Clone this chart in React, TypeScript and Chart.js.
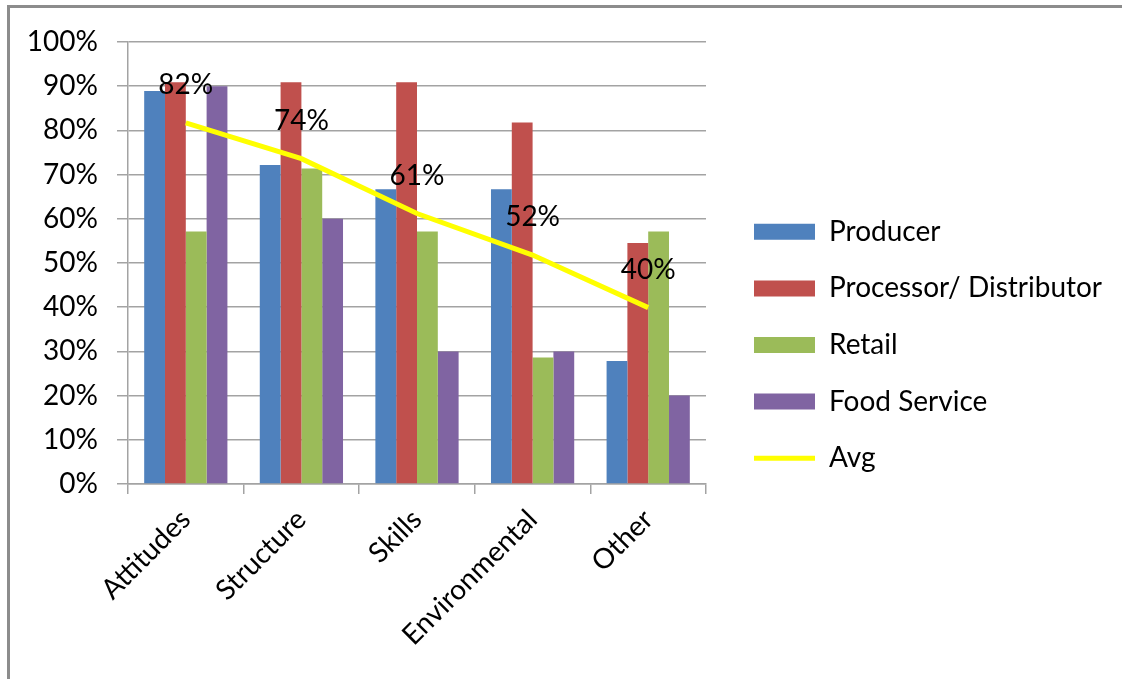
import React, { useEffect, useRef } from 'react';
import { Chart, registerables } from 'chart.js';

Chart.register(...registerables);

const categories = ['Attitudes', 'Structure', 'Skills', 'Environmental', 'Other'];
const producer = [88.9, 72.2, 66.7, 66.7, 27.8];
const processor = [90.9, 90.9, 90.9, 81.8, 54.5];
const retail = [57.1, 71.4, 57.1, 28.6, 57.1];
const foodService = [90, 60, 30, 30, 20];
const avg = [81.7, 73.6, 61.2, 51.8, 39.9];
const avgLabels = ['82%', '74%', '61%', '52%', '40%'];

const seriesNames = ['Producer', 'Processor/ Distributor', 'Retail', 'Food Service', 'Avg'];
const colors = ['#4F81BD', '#C0504D', '#9BBB59', '#8064A2', '#FFFF00'];

const FONT = 'Lato';
const FS = 28;
const GRID = '#a3a3a3';

const avgLabelPlugin = {
  id: 'avgLabelPlugin',
  afterDatasetsDraw(chart: any) {
    const idx = chart.data.datasets.findIndex((d: any) => d.type === 'line');
    if (idx < 0) return;
    const meta = chart.getDatasetMeta(idx);
    const ctx = chart.ctx;
    ctx.save();
    ctx.font = `${FS}px ${FONT}`;
    ctx.fillStyle = '#000';
    ctx.textAlign = 'center';
    ctx.textBaseline = 'middle';
    meta.data.forEach((pt: any, i: number) => {
      ctx.fillText(avgLabels[i], pt.x, pt.y - 38);
    });
    ctx.restore();
  },
};

export default function App() {
  const ref = useRef<HTMLCanvasElement | null>(null);

  useEffect(() => {
    if (!ref.current) return;
    const barSets = [producer, processor, retail, foodService].map((data, i) => ({
      type: 'bar' as const,
      label: seriesNames[i],
      data,
      backgroundColor: colors[i],
      borderWidth: 0,
      barPercentage: 1,
      categoryPercentage: 0.72,
      order: 1,
    }));
    const chart = new Chart(ref.current, {
      type: 'bar',
      data: {
        labels: categories,
        datasets: [
          ...barSets,
          {
            type: 'line' as const,
            label: seriesNames[4],
            data: avg,
            borderColor: colors[4],
            backgroundColor: colors[4],
            borderWidth: 5,
            pointRadius: 0,
            tension: 0,
            fill: false,
            order: -1,
          } as any,
        ],
      },
      options: {
        responsive: false,
        maintainAspectRatio: false,
        animation: false,
        layout: { padding: { top: 42, left: 0, right: 11.6, bottom: 31 } },
        plugins: {
          tooltip: { enabled: false },
          legend: {
            position: 'right',
            align: 'center',
            maxWidth: 385,
            labels: {
              font: { family: FONT, size: FS },
              color: '#000',
              usePointStyle: true,
              pointStyleWidth: 61,
              boxHeight: 16,
              padding: 28.6,
              sort: (a: any, b: any) => a.datasetIndex - b.datasetIndex,
              generateLabels: (ch: any) => {
                const items = (Chart.defaults.plugins.legend.labels as any).generateLabels(ch);
                return items.map((it: any) => {
                  const ds = ch.data.datasets[it.datasetIndex];
                  if (ds.type === 'line') {
                    return { ...it, pointStyle: 'line', strokeStyle: colors[4], fillStyle: colors[4], lineWidth: 5 };
                  }
                  return { ...it, pointStyle: 'rect', lineWidth: 0, fillStyle: ds.backgroundColor, strokeStyle: ds.backgroundColor };
                });
              },
            },
          },
        },
        scales: {
          x: {
            grid: {
              display: true,
              drawOnChartArea: false,
              drawTicks: true,
              tickLength: 10,
              color: GRID,
              lineWidth: 1.5,
              offset: true,
            },
            border: { display: true, color: GRID, width: 1.5 },
            ticks: {
              font: { family: FONT, size: FS },
              color: '#000',
              maxRotation: 45,
              minRotation: 45,
              padding: 9,
              autoSkip: false,
            },
            afterFit: (s: any) => {
              s.height = 164;
            },
          },
          y: {
            min: 0,
            max: 100,
            ticks: {
              stepSize: 10,
              callback: (v: any) => `${v}%`,
              font: { family: FONT, size: FS },
              color: '#000',
              padding: 19,
            },
            grid: { color: GRID, lineWidth: 1.5, tickLength: 11 },
            border: { color: GRID, width: 1.5 },
            afterFit: (s: any) => {
              s.width = 128;
            },
          },
          yPad: {
            type: 'linear',
            position: 'right',
            display: true,
            grid: { display: false, drawTicks: false },
            border: { display: false },
            ticks: { display: false },
            afterFit: (s: any) => {
              s.width = 19.4;
            },
          },
        },
      } as any,
      plugins: [avgLabelPlugin],
    });
    return () => chart.destroy();
  }, []);

  return (
    <div style={{ position: 'fixed', left: 0, top: 0, width: 1122, height: 679, background: '#fff', overflow: 'hidden' }}>
      <div
        style={{
          position: 'absolute',
          left: 7,
          top: 5,
          width: 1130,
          height: 690,
          borderTop: '3px solid #8c8c8c',
          borderLeft: '3px solid #8c8c8c',
        }}
      />
      <canvas ref={ref} width={1122} height={679} style={{ position: 'absolute', left: 0, top: 0 }} />
    </div>
  );
}
